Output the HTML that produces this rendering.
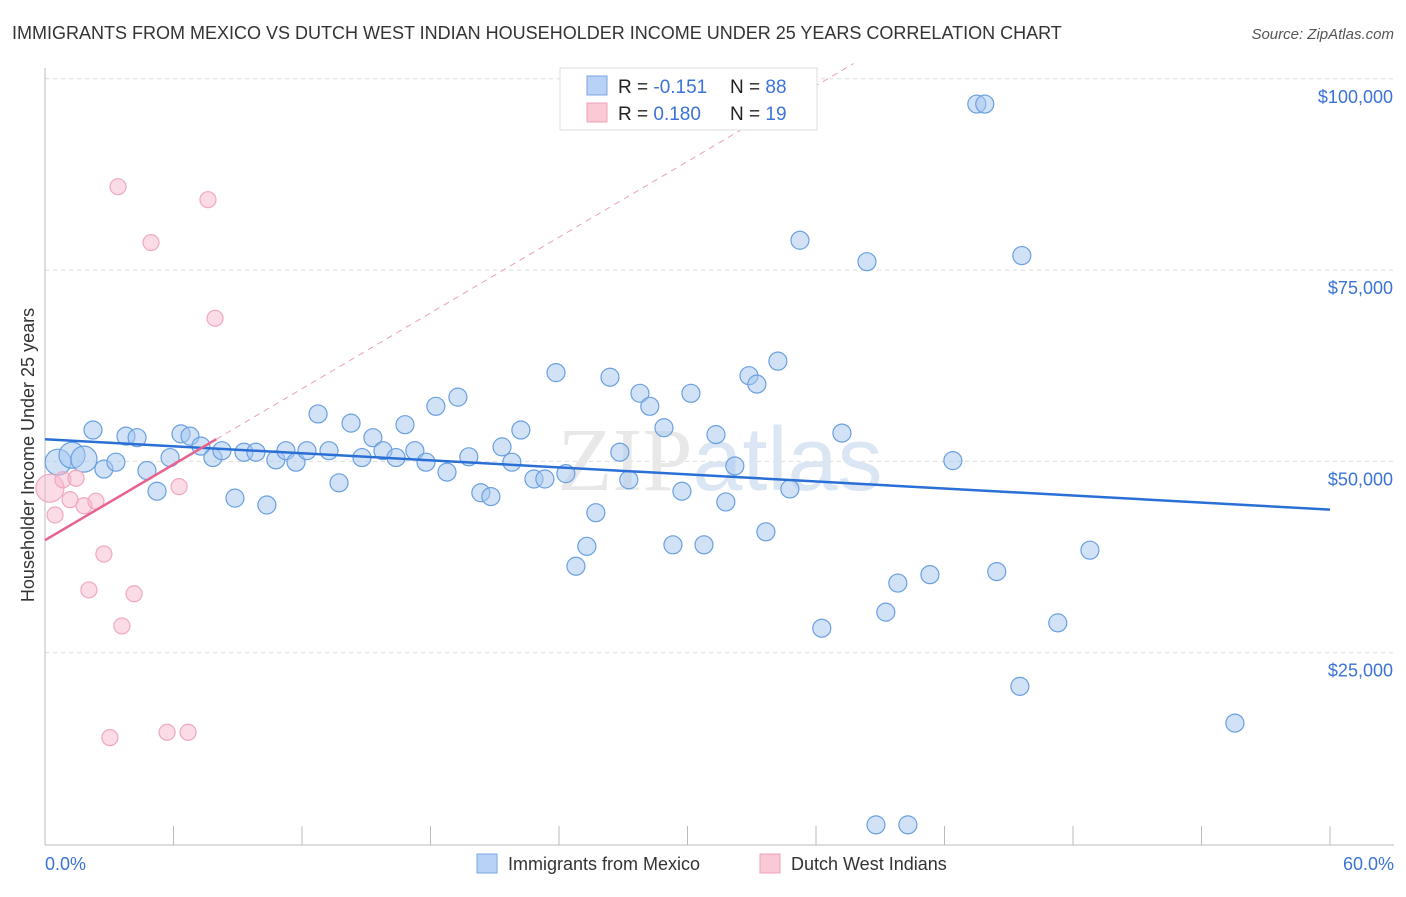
<!DOCTYPE html>
<html><head><meta charset="utf-8"><style>
body{margin:0;background:#fff;font-family:"Liberation Sans",sans-serif}
</style></head><body>
<svg width="1406" height="892" viewBox="0 0 1406 892" xmlns="http://www.w3.org/2000/svg">
<text x="12" y="39" font-size="18" fill="#333">IMMIGRANTS FROM MEXICO VS DUTCH WEST INDIAN HOUSEHOLDER INCOME UNDER 25 YEARS CORRELATION CHART</text>
<text x="1394" y="39" font-size="15" fill="#555" text-anchor="end" font-style="italic">Source: ZipAtlas.com</text>
<g id="grid"></g>
<g id="axes"></g>
<text x="720" y="490" font-size="90" fill="#e8e8e8" text-anchor="middle" font-family="Liberation Serif">ZIP<tspan font-family="Liberation Sans" fill="#dbe6f5">atlas</tspan></text>
<g id="pts"></g>
<g id="lines"></g>
<text transform="translate(34,455) rotate(-90)" font-size="18" fill="#333" text-anchor="middle">Householder Income Under 25 years</text>
<text x="45" y="870" font-size="18" fill="#3b73d6">0.0%</text>
<text x="1394" y="870" font-size="18" fill="#3b73d6" text-anchor="end">60.0%</text>
<g>
<rect x="560" y="68" width="257" height="62" fill="#fff" stroke="#ddd"/>
<rect x="587" y="76" width="20" height="19" fill="#b8d2f5" stroke="#7aa6e2"/>
<rect x="587" y="103" width="20" height="19" fill="#fbc8d6" stroke="#f0a0b8"/>
<text x="618" y="93" font-size="19" fill="#222">R = <tspan fill="#3b73d6">-0.151</tspan><tspan x="730">N = </tspan><tspan fill="#3b73d6">88</tspan></text>
<text x="618" y="120" font-size="19" fill="#222">R = <tspan fill="#3b73d6"> 0.180</tspan><tspan x="730">N = </tspan><tspan fill="#3b73d6"> 19</tspan></text>
</g>
<g>
<rect x="477" y="854" width="20" height="19" fill="#b8d2f5" stroke="#7aa6e2"/>
<text x="508" y="870" font-size="18" fill="#333">Immigrants from Mexico</text>
<rect x="760" y="854" width="20" height="19" fill="#fbc8d6" stroke="#f0a0b8"/>
<text x="791" y="870" font-size="18" fill="#333">Dutch West Indians</text>
</g>
</svg>
<script>
const blueX=[0.61,1.26,1.82,2.24,2.75,3.31,3.78,4.30,4.76,5.23,5.84,6.35,6.77,7.28,7.84,8.26,8.87,9.29,9.85,10.36,10.78,11.25,11.72,12.23,12.75,13.26,13.73,14.29,14.80,15.31,15.78,16.39,16.81,17.27,17.79,18.25,18.77,19.28,19.79,20.35,20.82,21.34,21.80,22.22,22.83,23.34,23.86,24.32,24.79,25.30,25.72,26.38,26.84,27.26,27.78,28.24,28.90,29.32,29.74,30.16,30.77,31.33,31.79,32.21,32.87,33.24,33.66,34.22,34.78,35.25,36.27,37.21,38.38,38.80,39.26,39.82,40.29,41.32,42.39,43.51,43.88,44.44,45.52,45.61,47.29,48.79,55.56];
const blueY=[49.9,50.8,50.3,54.1,49.0,49.9,53.3,53.1,48.8,46.1,50.5,53.6,53.3,52.0,50.5,51.4,45.2,51.2,51.2,44.3,50.2,51.4,49.9,51.4,56.2,51.4,47.2,55.0,50.5,53.1,51.4,50.5,54.8,51.4,49.9,57.2,48.6,58.4,50.6,45.9,45.4,51.9,49.9,54.1,47.7,47.7,61.6,48.4,36.3,38.9,43.3,61.0,51.2,47.6,58.9,57.2,54.4,39.1,46.1,58.9,39.1,53.5,44.7,49.4,61.2,60.1,40.8,63.1,46.4,78.9,28.2,53.7,76.1,2.5,30.3,34.1,2.5,35.2,50.1,96.7,96.7,35.6,20.6,76.9,28.9,38.4,15.8];
const blueBig=[0,1,2];
const pinkX=[0.23,0.47,0.84,1.17,1.45,1.82,2.38,2.75,3.03,3.41,3.59,4.16,2.05,4.95,5.70,6.26,6.68,7.61,7.94];
const pinkY=[46.5,43.0,47.6,45.0,47.8,44.2,44.8,37.9,13.9,85.9,28.5,32.7,33.2,78.6,14.6,46.7,14.6,84.2,68.7];
const yTicks=[25,50,75,100];
const yTickLabels=["$25,000","$50,000","$75,000","$100,000"];
const xTicks=[0,6,12,18,24,30,36,42,48,54,60];
const blueTrend=[52.9,43.7];
const pinkTrend=[39.7,1.65];
const NS="http://www.w3.org/2000/svg";
const sx=v=>45+v*1285/60;
const sy=v=>844-v*191.3/25;
function mk(t,a,p){const e=document.createElementNS(NS,t);for(const k in a)e.setAttribute(k,a[k]);p.appendChild(e);return e;}
const grid=document.getElementById('grid'),axes=document.getElementById('axes'),pts=document.getElementById('pts'),lines=document.getElementById('lines');
yTicks.forEach((t,i)=>{
 const l=mk('line',{x1:45,x2:1394,y1:sy(t),y2:sy(t),stroke:'#ddd','stroke-dasharray':'4,4'},grid);
 
 
 const tx=mk('text',{x:1393,y:sy(t)+24,'font-size':18,fill:'#3b73d6','text-anchor':'end'},axes);
 tx.textContent=yTickLabels[i];
 
 
});
mk('line',{x1:45,x2:1394,y1:845,y2:845,stroke:'#bbb'},axes);
mk('line',{x1:45,x2:45,y1:68,y2:845,stroke:'#bbb'},axes);
xTicks.forEach(t=>{
 const l=mk('line',{x1:sx(t),x2:sx(t),y1:826,y2:845,stroke:'#bbb'},axes);
 
 
});
blueX.forEach((x,i)=>{
 const c=mk('circle',{cx:sx(x),cy:sy(blueY[i]),r:blueBig.includes(i)?13:9,fill:'rgba(164,198,240,0.5)',stroke:'#6a9fe0','stroke-width':1.2},pts);
 
 
});
pinkX.forEach((x,i)=>{
 const c=mk('circle',{cx:sx(x),cy:sy(pinkY[i]),r:i==0?14:8,fill:'rgba(248,184,204,0.5)',stroke:'#f0a8be','stroke-width':1.2},pts);
 
 
});
const bl=mk('line',{x1:sx(0),y1:sy(blueTrend[0]),x2:sx(60),y2:sy(blueTrend[1]),stroke:'#2a6fd6','stroke-width':2.5},lines);


const pe=8, pd=(102-pinkTrend[0])/pinkTrend[1];
const pl=mk('line',{x1:sx(0),y1:sy(pinkTrend[0]),x2:sx(pe),y2:sy(pinkTrend[0]+pinkTrend[1]*pe),stroke:'#e8628e','stroke-width':2.5},lines);


const pdl=mk('line',{x1:sx(pe),y1:sy(pinkTrend[0]+pinkTrend[1]*pe),x2:sx(pd),y2:sy(102),stroke:'#eaa0b8','stroke-width':1,'stroke-dasharray':'6,5'},lines);


</script>
</body></html>
